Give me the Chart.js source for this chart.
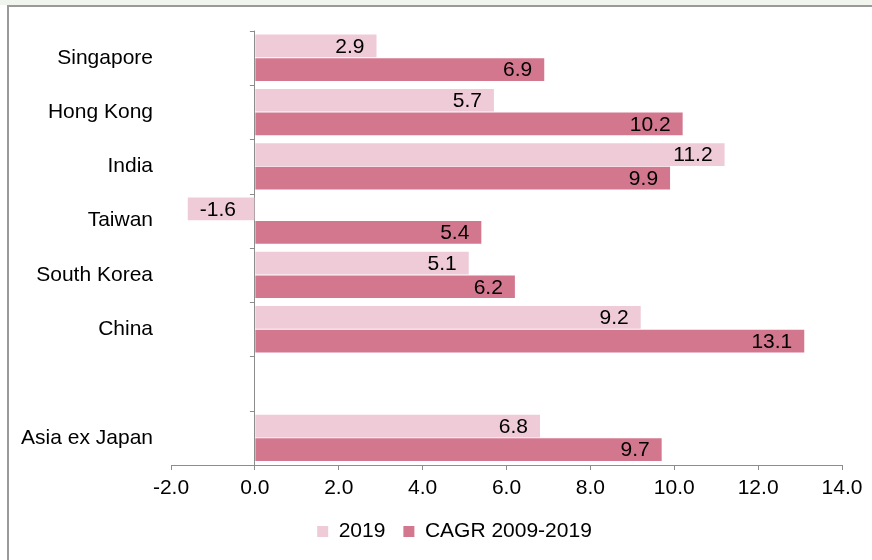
<!DOCTYPE html>
<html>
<head>
<meta charset="utf-8">
<script src="https://cdn.jsdelivr.net/npm/chart.js@4"></script>
<style>
html,body{margin:0;padding:0;width:872px;height:560px;overflow:hidden;background:#fff;}
#strip{position:absolute;left:0;top:0;width:872px;height:5px;background:#f0f5ee;}
#frame{position:absolute;left:7px;top:5px;width:880px;height:570px;border-left:2px solid #9a9a9a;border-top:2px solid #9a9a9a;}
#c{position:absolute;left:0;top:0;}
</style>
</head>
<body>
<div id="strip"></div>
<div id="frame"></div>
<canvas id="c" width="872" height="560"></canvas>
<script>
const categories = ['Singapore', 'Hong Kong', 'India', 'Taiwan', 'South Korea', 'China', '', 'Asia ex Japan'];
const values2019 = [2.9, 5.7, 11.2, -1.6, 5.1, 9.2, null, 6.8];
const valuesCagr = [6.9, 10.2, 9.9, 5.4, 6.2, 13.1, null, 9.7];
const seriesNames = ['2019', 'CAGR 2009-2019'];
const xMin = -2, xMax = 14, xStep = 2;

const FONT = '"Liberation Sans", Arial, sans-serif';
const FS = 21;
const TEXT = '#000000';
const AXIS = '#8c8c8c';
Chart.defaults.font.family = FONT;

const helpers = {
  id: 'helpers',
  afterLayout(chart) {
    // shift the legend block right to match the reference placement
    if (chart.legend) { chart.legend.left += 28; chart.legend.right += 28; }
  },
  afterDraw(chart) {
    const ctx = chart.ctx;
    const xs = chart.scales.x, ys = chart.scales.y;
    // y-axis tick marks at category boundaries on the zero line
    const x0 = xs.getPixelForValue(0);
    const n = categories.length;
    const step = (ys.getPixelForValue(1) - ys.getPixelForValue(0));
    ctx.save();
    ctx.strokeStyle = AXIS;
    ctx.lineWidth = 1;
    for (let i = 0; i <= n; i++) {
      const y = Math.round(ys.getPixelForValue(i) - step / 2) + 0.5;
      ctx.beginPath();
      ctx.moveTo(x0 - 5, y);
      ctx.lineTo(x0, y);
      ctx.stroke();
    }
    // data labels inside bar ends
    ctx.font = FS + 'px ' + FONT;
    ctx.fillStyle = TEXT;
    ctx.textBaseline = 'middle';
    chart.data.datasets.forEach((ds, di) => {
      const meta = chart.getDatasetMeta(di);
      meta.data.forEach((el, i) => {
        const v = ds.data[i];
        if (v === null || v === undefined) return;
        const label = v.toFixed(1);
        if (v >= 0) {
          ctx.textAlign = 'right';
          ctx.fillText(label, el.x - 12, el.y + 1);
        } else {
          ctx.textAlign = 'left';
          ctx.fillText(label, el.x + 12, el.y + 1);
        }
      });
    });
    ctx.restore();
  }
};

new Chart(document.getElementById('c'), {
  type: 'bar',
  data: {
    labels: categories,
    datasets: [
      { label: seriesNames[0], data: values2019, backgroundColor: '#eecbd6', borderWidth: 0, barPercentage: 0.96, categoryPercentage: 0.87 },
      { label: seriesNames[1], data: valuesCagr, backgroundColor: '#d3778f', borderWidth: 0, barPercentage: 0.96, categoryPercentage: 0.87 }
    ]
  },
  options: {
    indexAxis: 'y',
    responsive: false,
    animation: false,
    layout: { padding: { top: 29, left: 11, right: 30, bottom: 8 } },
    scales: {
      x: {
        min: xMin, max: xMax,
        ticks: { stepSize: xStep, callback: v => Number(v).toFixed(1), color: TEXT, font: { size: FS }, padding: 6, maxRotation: 0 },
        grid: {
          color: c => (c.tick && c.tick.value === 0) ? AXIS : 'rgba(0,0,0,0)',
          tickColor: AXIS, tickLength: 5, lineWidth: 1
        },
        border: { display: true, color: AXIS, width: 1 },
        afterFit: s => { s.height = 38; }
      },
      y: {
        ticks: { color: TEXT, font: { size: FS }, padding: 18 },
        grid: { display: false, drawTicks: false },
        border: { display: false },
        afterFit: s => { s.width = 160; }
      }
    },
    plugins: {
      legend: {
        position: 'bottom',
        labels: { boxWidth: 11, boxHeight: 11, padding: 18, color: TEXT, font: { size: FS } }
      },
      tooltip: { enabled: false }
    }
  },
  plugins: [helpers]
});
</script>
</body>
</html>
